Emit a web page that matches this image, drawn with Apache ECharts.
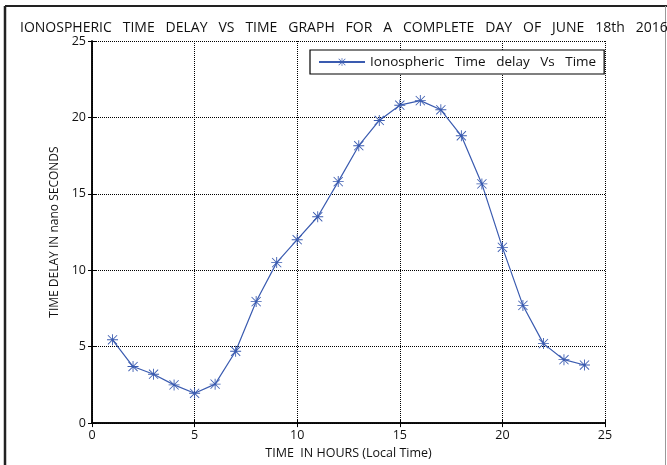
<!DOCTYPE html>
<html><head><meta charset="utf-8">
<script src="https://cdn.jsdelivr.net/npm/echarts@6/dist/echarts.min.js"></script>
<style>html,body{margin:0;padding:0;background:#fff}#c{width:667px;height:465px}</style>
</head><body><div id="c"></div>
<script>
var hours = [1,2,3,4,5,6,7,8,9,10,11,12,13,14,15,16,17,18,19,20,21,22,23,24];
var delays = [5.45,3.7,3.2,2.5,1.95,2.55,4.7,7.95,10.5,12.0,13.5,15.8,18.15,19.8,20.8,21.1,20.5,18.8,15.65,11.5,7.7,5.2,4.15,3.8];
var xTicks = [0,5,10,15,20,25];
var yTicks = [0,5,10,15,20,25];
var seriesName = 'Ionospheric   Time   delay   Vs   Time';
var titleText = 'IONOSPHERIC   TIME   DELAY   VS   TIME   GRAPH   FOR   A   COMPLETE   DAY   OF   JUNE   18th   2016';

var star = 'path://M9.2 0 L10.8 0 L10.8 20 L9.2 20 Z M0 9.2 L20 9.2 L20 10.8 L0 10.8 Z M2.2 1.1 L18.9 17.8 L17.8 18.9 L1.1 2.2 Z M17.8 1.1 L18.9 2.2 L2.2 18.9 L1.1 17.8 Z';
var blue = '#3a5bb0';
var font = '"Open Sans", "Noto Sans", sans-serif';

var chart = echarts.init(document.getElementById('c'), null, {renderer:'canvas'});
var axisCommon = {
  type:'value', min:0, max:25, interval:5,
  axisLine:{show:true, lineStyle:{color:'#000', width:1.5}},
  axisTick:{show:true, inside:true, length:4, lineStyle:{color:'#000'}},
  splitLine:{show:false}
};
chart.setOption({
  animation:false,
  backgroundColor:'#fff',
  textStyle:{fontFamily:font},
  title:{text:titleText, left:15, top:16, padding:5, textStyle:{fontSize:14, fontWeight:'normal', color:'#111', fontFamily:font}},
  grid:{left:92, right:62, top:41, bottom:41, containLabel:false},
  legend:{
    data:[{name:seriesName}],
    left:310, top:50, width:292,
    padding:[5,8,5,8],
    itemWidth:46, itemHeight:10, itemGap:4,
    borderColor:'#000', borderWidth:1.2, backgroundColor:'#fff',
    textStyle:{fontSize:13.5, color:'#111', fontFamily:font}
  },
  xAxis:[
    Object.assign({}, axisCommon, {position:'bottom',
      name:'TIME  IN HOURS (Local Time)', nameLocation:'middle', nameGap:20,
      nameTextStyle:{fontSize:12.5, color:'#111'},
      axisLabel:{fontSize:12.5, color:'#111', margin:6},
      splitLine:{show:true, lineStyle:{color:'#000', type:[1,1], width:1}}
    }),
    Object.assign({}, axisCommon, {position:'top', axisLabel:{show:false}})
  ],
  yAxis:[
    Object.assign({}, axisCommon, {position:'left',
      name:'TIME DELAY IN nano SECONDS', nameLocation:'middle', nameGap:30,
      nameTextStyle:{fontSize:12, color:'#111'},
      axisLabel:{fontSize:12.5, color:'#111', margin:6},
      splitLine:{show:true, lineStyle:{color:'#000', type:[1,1], width:1}}
    }),
    Object.assign({}, axisCommon, {position:'right', axisLabel:{show:false}})
  ],
  graphic:[
    {type:'line', shape:{x1:5, y1:6, x2:5, y2:465}, style:{stroke:'#222', lineWidth:2.5}, silent:true},
    {type:'line', shape:{x1:5, y1:6, x2:667, y2:6}, style:{stroke:'#222', lineWidth:2}, silent:true},
    {type:'line', shape:{x1:665.5, y1:6, x2:665.5, y2:465}, style:{stroke:'#999', lineWidth:1}, silent:true}
  ],
  series:[{
    name:seriesName, type:'line',
    data:hours.map(function(h,i){return [h, delays[i]];}),
    symbol:star, symbolSize:11,
    lineStyle:{color:blue, width:1.2},
    itemStyle:{color:blue},
    z:5
  }]
});
</script></body></html>
